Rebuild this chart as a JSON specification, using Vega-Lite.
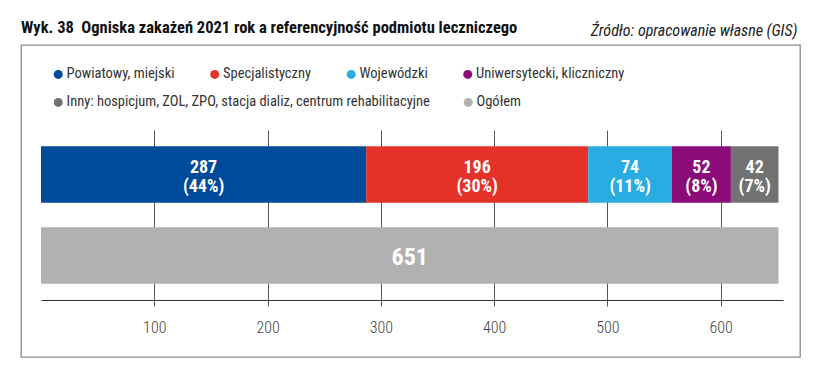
{
  "$schema": "https://vega.github.io/schema/vega-lite/v6.json",
  "width": 779,
  "height": 312,
  "autosize": {"type": "none"},
  "padding": {"left": 21, "top": 45, "right": 30, "bottom": 16},
  "background": "white",
  "title": {
    "text": "Wyk. 38\u2002Ogniska zakażeń 2021 rok a referencyjność podmiotu leczniczego",
    "anchor": "start",
    "frame": "group",
    "font": "Roboto Condensed, Lato",
    "fontSize": 16.5,
    "fontWeight": "bold",
    "color": "#111111",
    "offset": -14
  },
  "data": {
    "values": [
      {"row": "stack", "cat": "Powiatowy, miejski", "value": 287, "label": "287\n(44%)", "order": 1, "group": 1},
      {"row": "stack", "cat": "Specjalistyczny", "value": 196, "label": "196\n(30%)", "order": 2, "group": 1},
      {"row": "stack", "cat": "Wojewódzki", "value": 74, "label": "74\n(11%)", "order": 3, "group": 1},
      {"row": "stack", "cat": "Uniwersytecki, kliczniczny", "value": 52, "label": "52\n(8%)", "order": 4, "group": 1},
      {"row": "stack", "cat": "Inny: hospicjum, ZOL, ZPO, stacja dializ, centrum rehabilitacyjne", "value": 42, "label": "42\n(7%)", "order": 5, "group": 2},
      {"row": "total", "cat": "Ogółem", "value": 651, "label": "651", "order": 1, "group": 2}
    ]
  },
  "transform": [
    {"stack": "value", "groupby": ["row"], "sort": [{"field": "order", "order": "ascending"}], "as": ["x0", "x1"]}
  ],
  "layer": [
    {
      "mark": {"type": "bar", "opacity": 0},
      "encoding": {
        "x": {
          "field": "x0", "type": "quantitative",
          "scale": {"domain": [0, 655], "range": [20, 762], "nice": false, "zero": false},
          "axis": {
            "orient": "bottom", "values": [100, 200, 300, 400, 500, 600],
            "grid": true, "gridColor": "#555555", "gridWidth": 1,
            "domain": false, "ticks": false, "labels": false, "title": null
          }
        },
        "x2": {"field": "x1"},
        "y": {
          "field": "row", "type": "nominal",
          "scale": {"domain": ["stack", "total"], "range": [57, 227], "paddingInner": 0.3, "paddingOuter": 0.2},
          "axis": null
        }
      }
    },
    {
      "transform": [{"filter": "datum.group == 1"}],
      "mark": {"type": "bar"},
      "encoding": {
        "x": {"field": "x0", "type": "quantitative", "axis": null},
        "x2": {"field": "x1"},
        "y": {
          "field": "row", "type": "nominal",
          "scale": {"domain": ["stack", "total"], "range": [85, 255], "paddingInner": 0.3, "paddingOuter": 0.2},
          "axis": null
        },
        "color": {
          "field": "cat", "type": "nominal",
          "scale": {
            "domain": ["Powiatowy, miejski", "Specjalistyczny", "Wojewódzki", "Uniwersytecki, kliczniczny"],
            "range": ["#004a9a", "#e4322a", "#2aace2", "#8b0b79"]
          },
          "legend": {
            "orient": "none", "legendX": 30, "legendY": 22, "direction": "horizontal",
            "title": null, "symbolType": "circle", "symbolSize": 81, "symbolStrokeWidth": 0,
            "labelFont": "Roboto Condensed, Lato", "labelLimit": 600,
            "labelFontSize": 14.5, "labelColor": "#333333", "columnPadding": 32.5, "labelOffset": 1, "padding": 0
          }
        }
      }
    },
    {
      "transform": [{"filter": "datum.group == 2"}],
      "mark": {"type": "bar"},
      "encoding": {
        "x": {
          "field": "x0", "type": "quantitative",
          "axis": {
            "orient": "top", "labels": false, "ticks": false, "domain": false, "grid": false,
            "title": "Źródło: opracowanie własne (GIS)",
            "titleFont": "Roboto Condensed, Lato",
            "titleFontStyle": "italic", "titleFontWeight": "normal", "titleFontSize": 16,
            "titleColor": "#222222", "titleX": 776, "titleY": -15,
            "titleAlign": "right", "titleAnchor": "end", "titleBaseline": "middle"
          }
        },
        "x2": {"field": "x1"},
        "y": {
          "field": "row", "type": "nominal",
          "scale": {"domain": ["stack", "total"], "range": [85, 255], "paddingInner": 0.3, "paddingOuter": 0.2},
          "axis": null
        },
        "color": {
          "field": "cat", "type": "nominal",
          "scale": {
            "domain": ["Inny: hospicjum, ZOL, ZPO, stacja dializ, centrum rehabilitacyjne", "Ogółem"],
            "range": ["#727272", "#b1b1b1"]
          },
          "legend": {
            "orient": "none", "legendX": 30, "legendY": 50, "direction": "horizontal",
            "title": null, "symbolType": "circle", "symbolSize": 81, "symbolStrokeWidth": 0,
            "labelFont": "Roboto Condensed, Lato", "labelLimit": 600,
            "labelFontSize": 14.5, "labelColor": "#333333", "columnPadding": 31, "labelOffset": 1, "padding": 0
          }
        }
      }
    },
    {
      "transform": [
        {"filter": "datum.row == 'stack'"},
        {"fold": ["x0", "x1"], "as": ["edge", "pos"]},
        {"aggregate": [{"op": "mean", "field": "pos", "as": "mid"}], "groupby": ["cat", "row", "label"]}
      ],
      "mark": {
        "type": "text", "color": "white", "fontWeight": "bold", "fontSize": 18, "lineHeight": 19, "lineBreak": "\n",
        "font": "Roboto Condensed, Lato", "baseline": "middle", "align": "center", "dy": -5
      },
      "encoding": {
        "x": {
          "field": "mid", "type": "quantitative",
          "axis": {
            "orient": "bottom", "offset": -57, "values": [100, 200, 300, 400, 500, 600],
            "grid": false, "domainColor": "#333333", "domainWidth": 1,
            "tickColor": "#555555", "tickSize": 6,
            "labelFont": "Roboto Condensed, Lato", "labelFontWeight": 300,
            "labelFontSize": 16, "labelColor": "#444444", "labelPadding": 13,
            "title": null
          }
        },
        "y": {
          "field": "row", "type": "nominal",
          "scale": {"domain": ["stack", "total"], "range": [85, 255], "paddingInner": 0.3, "paddingOuter": 0.2},
          "axis": null
        },
        "text": {"field": "label", "type": "nominal"}
      }
    },
    {
      "transform": [
        {"filter": "datum.row == 'total'"},
        {"fold": ["x0", "x1"], "as": ["edge", "pos"]},
        {"aggregate": [{"op": "mean", "field": "pos", "as": "mid"}], "groupby": ["cat", "row", "label"]}
      ],
      "mark": {
        "type": "text", "color": "white", "fontWeight": "bold", "fontSize": 24,
        "font": "Roboto Condensed, Lato", "baseline": "middle", "align": "center"
      },
      "encoding": {
        "x": {"field": "mid", "type": "quantitative", "axis": null},
        "y": {
          "field": "row", "type": "nominal",
          "scale": {"domain": ["stack", "total"], "range": [85, 255], "paddingInner": 0.3, "paddingOuter": 0.2},
          "axis": null
        },
        "text": {"field": "label", "type": "nominal"}
      }
    }
  ],
  "resolve": {"scale": {"color": "independent", "y": "independent"}, "axis": {"x": "independent"}},
  "config": {"view": {"stroke": "#8a8a8a", "strokeWidth": 1.3}}
}
